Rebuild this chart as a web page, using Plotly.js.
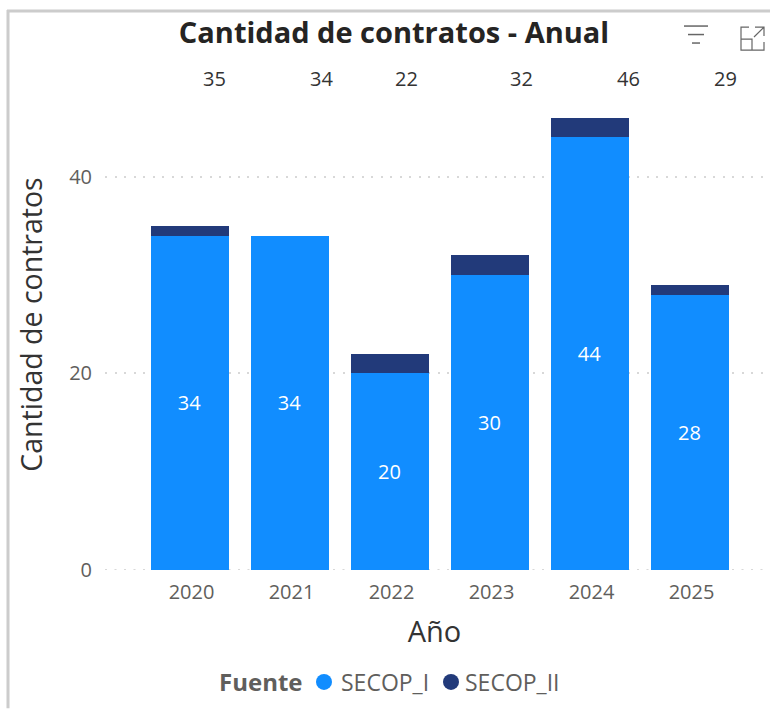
<!DOCTYPE html>
<html>
<head>
<meta charset="utf-8">
<script src="https://cdn.plot.ly/plotly-3.0.1.min.js"></script>
<style>
html,body{margin:0;padding:0;background:#fff;}
#chart{position:absolute;left:0;top:0;width:770px;height:709px;}
</style>
</head>
<body>
<div id="chart"></div>
<script>
var years = ['2020','2021','2022','2023','2024','2025'];
var secopI = [34,34,20,30,44,28];
var secopII = [1,0,2,2,2,1];
var totals = [35,34,22,32,46,29];
var totalShift = [24.5,31.5,16.5,32,38.5,35.5];
var seriesNames = ['SECOP_I','SECOP_II'];
var seriesColors = ['#118dff','#223a7a'];
var legendTextX = {'SECOP_I':37,'SECOP_II':34};

var W=770,H=709,L=105,R=764,T=79,B=570.5;
function px(x){return (x-L)/(R-L);}
function py(y){return (B-y)/(B-T);}
var FONT='Open Sans, Liberation Sans, Arial';

var annotations = totals.map(function(v,i){
  return {text:String(v),x:i,xref:'x',xshift:totalShift[i],y:py(78),yref:'paper',showarrow:false,
    xanchor:'center',yanchor:'middle',font:{family:FONT,size:20,color:'#333333'}};
});
annotations.push({text:'<b>Fuente</b>',x:px(261),xref:'paper',y:py(682),yref:'paper',showarrow:false,
  xanchor:'center',yanchor:'middle',font:{family:FONT,size:24,color:'#605e5c'}});

var traces=[
 {type:'bar',name:seriesNames[0],x:years,y:secopI,marker:{color:seriesColors[0]},width:0.78,showlegend:false,
  text:secopI.map(String),textposition:'inside',insidetextanchor:'middle',constraintext:'none',
  textangle:0,textfont:{family:FONT,size:20,color:'#ffffff'}},
 {type:'bar',name:seriesNames[1],x:years,y:secopII,marker:{color:seriesColors[1]},width:0.78,showlegend:false},
 {type:'scatter',mode:'markers',name:seriesNames[0],x:[null],y:[null],legend:'legend',showlegend:true,
  marker:{color:seriesColors[0],size:19,symbol:'circle'}},
 {type:'scatter',mode:'markers',name:seriesNames[1],x:[null],y:[null],legend:'legend2',showlegend:true,
  marker:{color:seriesColors[1],size:19,symbol:'circle'}}
];

function legendAt(xPos){
  return {orientation:'h',xref:'container',yref:'container',x:xPos/W,xanchor:'left',y:1-682/H,yanchor:'middle',
    font:{family:FONT,size:23,color:'#605e5c'},itemwidth:30,bgcolor:'rgba(0,0,0,0)'};
}

var layout={
 width:W,height:H,
 margin:{l:L,r:W-R,t:T,b:H-B,pad:0},
 paper_bgcolor:'#ffffff',plot_bgcolor:'#ffffff',
 barmode:'stack',showlegend:true,
 title:{text:'<b>Cantidad de contratos - Anual</b>',x:394/W,xref:'container',xanchor:'center',
   y:1-33/H,yref:'container',yanchor:'middle',
   font:{family:FONT,size:29,color:'#252423'}},
 xaxis:{type:'category',categoryorder:'array',categoryarray:years,range:[-0.845,5.745],
   showgrid:false,zeroline:false,showline:false,ticks:'',ticklabelshift:2,ticklabelstandoff:8,
   tickfont:{family:FONT,size:20,color:'#605e5c'},
   title:{text:'Año',standoff:17,font:{family:FONT,size:29,color:'#333333'}}},
 yaxis:{range:[0,(B-T)/9.84],tickvals:[0,20,40],ticktext:['0','20','40'],
   showgrid:true,gridcolor:'#d8d8d8',griddash:'2px,7.5px',gridwidth:2,
   zeroline:false,showline:false,ticks:'',ticklabelstandoff:12,
   tickfont:{family:FONT,size:20,color:'#605e5c'},
   title:{text:'Cantidad de contratos',standoff:18,font:{family:FONT,size:28.5,color:'#333333'}}},
 legend:legendAt(304),
 legend2:legendAt(431),
 annotations:annotations,
 shapes:[
  {type:'line',layer:'below',xref:'paper',yref:'y',x0:0,x1:1,y0:0,y1:0,line:{color:'#d8d8d8',width:2,dash:'2px,7.5px'}},
  {type:'line',xref:'paper',yref:'paper',x0:px(8),x1:px(8),y0:py(10),y1:py(709),line:{color:'#cccccc',width:3}},
  {type:'line',xref:'paper',yref:'paper',x0:px(7),x1:px(770),y0:py(11),y1:py(11),line:{color:'#cccccc',width:3}},
  {type:'line',xref:'paper',yref:'paper',x0:px(684),x1:px(708),y0:py(26),y1:py(26),line:{color:'#666666',width:1.5}},
  {type:'line',xref:'paper',yref:'paper',x0:px(688),x1:px(704),y0:py(34.5),y1:py(34.5),line:{color:'#666666',width:1.5}},
  {type:'line',xref:'paper',yref:'paper',x0:px(692),x1:px(700),y0:py(43),y1:py(43),line:{color:'#666666',width:1.5}},
  {type:'path',xref:'paper',yref:'paper',
   path:'M'+px(749)+' '+py(27)+' L'+px(741)+' '+py(27)+' L'+px(741)+' '+py(50)+' L'+px(764)+' '+py(50)+' L'+px(764)+' '+py(42)+
        ' M'+px(741)+' '+py(39)+' L'+px(752)+' '+py(39)+' L'+px(752)+' '+py(50)+
        ' M'+px(755)+' '+py(27)+' L'+px(764)+' '+py(27)+' L'+px(764)+' '+py(36)+
        ' M'+px(764)+' '+py(27)+' L'+px(754)+' '+py(37),
   line:{color:'#666666',width:1.2}}
 ]
};
function placeLegendText(){
  document.querySelectorAll('#chart .legendtext, #chart .legend2text').forEach(function(el){
    var x=legendTextX[el.textContent];
    if(x!==undefined) el.setAttribute('x',x);
  });
}
Plotly.newPlot('chart',traces,layout,{displayModeBar:false,responsive:false}).then(function(gd){
  gd.on('plotly_afterplot',placeLegendText);
  placeLegendText();
  setTimeout(placeLegendText,0);
  setTimeout(placeLegendText,100);
});
</script>
</body>
</html>
